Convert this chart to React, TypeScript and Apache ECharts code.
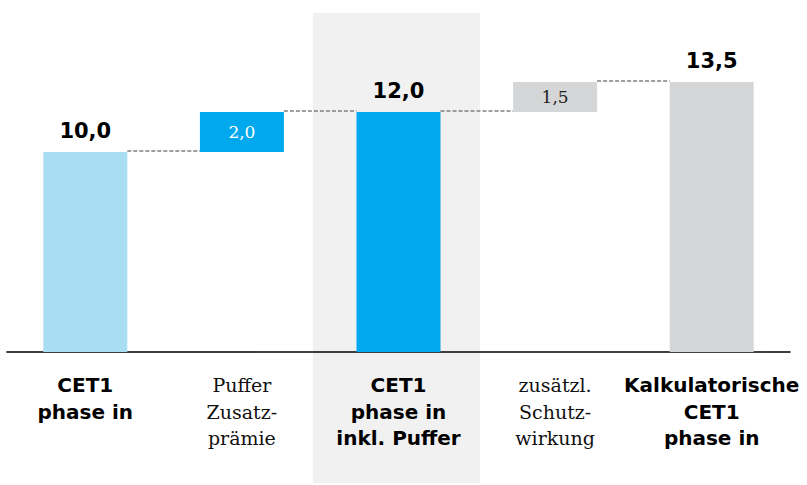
import React, { useEffect, useRef } from "react";
import * as echarts from "echarts";

// Bridge from CET1 phase-in to the calculated CET1 ratio (in %)
const categories = [
  "CET1\nphase in",
  "Puffer\nZusatz-\nprämie",
  "CET1\nphase in\ninkl. Puffer",
  "zusätzl.\nSchutz-\nwirkung",
  "Kalkulatorische\nCET1\nphase in",
];
const values = [10.0, 2.0, 12.0, 1.5, 13.5];
const isTotal = [true, false, true, false, true];
const barColors = ["#a9ddf2", "#00a9ee", "#00a9ee", "#d5d6d8", "#d5d6d8"];
const highlightIndex = 2;

const BAR_WIDTH = 84;
const fmt = (v: number) => v.toFixed(1).replace(".", ",");

export default function App() {
  const ref = useRef<HTMLDivElement>(null);

  useEffect(() => {
    if (!ref.current) return;
    const chart = echarts.init(ref.current, null, { renderer: "svg" });

    // invisible offsets for the delta bars and the running level after each bar
    const bases: number[] = [];
    const levels: number[] = [];
    let running = 0;
    values.forEach((v, i) => {
      if (isTotal[i]) {
        bases.push(0);
        running = v;
      } else {
        bases.push(running);
        running += v;
      }
      levels.push(isTotal[i] ? v : bases[i] + v);
    });
    const connectors = levels.slice(0, -1).map((lv, i) => [i, lv]);

    chart.setOption({
      animation: false,
      grid: { left: 7, right: 17, top: 12, bottom: 133 },
      xAxis: {
        type: "category",
        data: categories,
        axisLine: { lineStyle: { color: "#000", width: 1.6 } },
        axisTick: { show: false },
        axisLabel: {
          interval: 0,
          margin: 20,
          formatter: (value: string, idx: number) => {
            const tag = isTotal[idx] ? "b" : "s";
            return value
              .split("\n")
              .map((l) => `{${tag}|${l}}`)
              .join("\n");
          },
          rich: {
            b: {
              fontFamily: "DejaVu Sans",
              fontWeight: "bold",
              fontSize: 20,
              lineHeight: 26.5,
              color: "#000",
            },
            s: {
              fontFamily: "DejaVu Serif",
              fontSize: 19,
              lineHeight: 26.5,
              color: "#111",
            },
          },
        },
      },
      yAxis: { type: "value", min: 0, max: 17, show: false },
      series: [
        {
          type: "bar",
          stack: "w",
          silent: true,
          barWidth: BAR_WIDTH,
          itemStyle: { color: "transparent" },
          data: bases,
        },
        {
          type: "bar",
          stack: "w",
          barWidth: BAR_WIDTH,
          data: values.map((v, i) => ({
            value: v,
            itemStyle: { color: barColors[i] },
            label: isTotal[i]
              ? {
                  show: true,
                  position: "top",
                  distance: 11,
                  formatter: fmt(v),
                  fontFamily: "DejaVu Sans",
                  fontWeight: "bold",
                  fontSize: 21,
                  color: "#000",
                }
              : {
                  show: true,
                  position: "inside",
                  formatter: fmt(v),
                  fontFamily: "DejaVu Serif",
                  fontSize: 17,
                  color: i === 1 ? "#fff" : "#222",
                },
          })),
        },
        {
          type: "custom",
          silent: true,
          data: connectors,
          renderItem: (_params: any, api: any) => {
            const p = api.coord([api.value(0), api.value(1)]);
            const band = api.size([1, 0])[0];
            const half = BAR_WIDTH / 2;
            return {
              type: "line",
              shape: {
                x1: p[0] + half,
                y1: p[1] - 1,
                x2: p[0] + band - half,
                y2: p[1] - 1,
              },
              style: { stroke: "#7f7f7f", lineWidth: 1.3, lineDash: [4, 2] },
            };
          },
        },
      ],
    });

    // shaded column behind the subtotal including buffers
    const cx = chart.convertToPixel({ xAxisIndex: 0 }, highlightIndex) as number;
    chart.setOption({
      graphic: [
        {
          type: "rect",
          z: -10,
          silent: true,
          shape: { x: cx - 85.5, y: 13, width: 167, height: 470 },
          style: { fill: "#f1f1f1" },
        },
      ],
    });

    return () => chart.dispose();
  }, []);

  return (
    <div
      ref={ref}
      style={{ position: "absolute", left: 0, top: 0, width: 807, height: 485 }}
    />
  );
}
